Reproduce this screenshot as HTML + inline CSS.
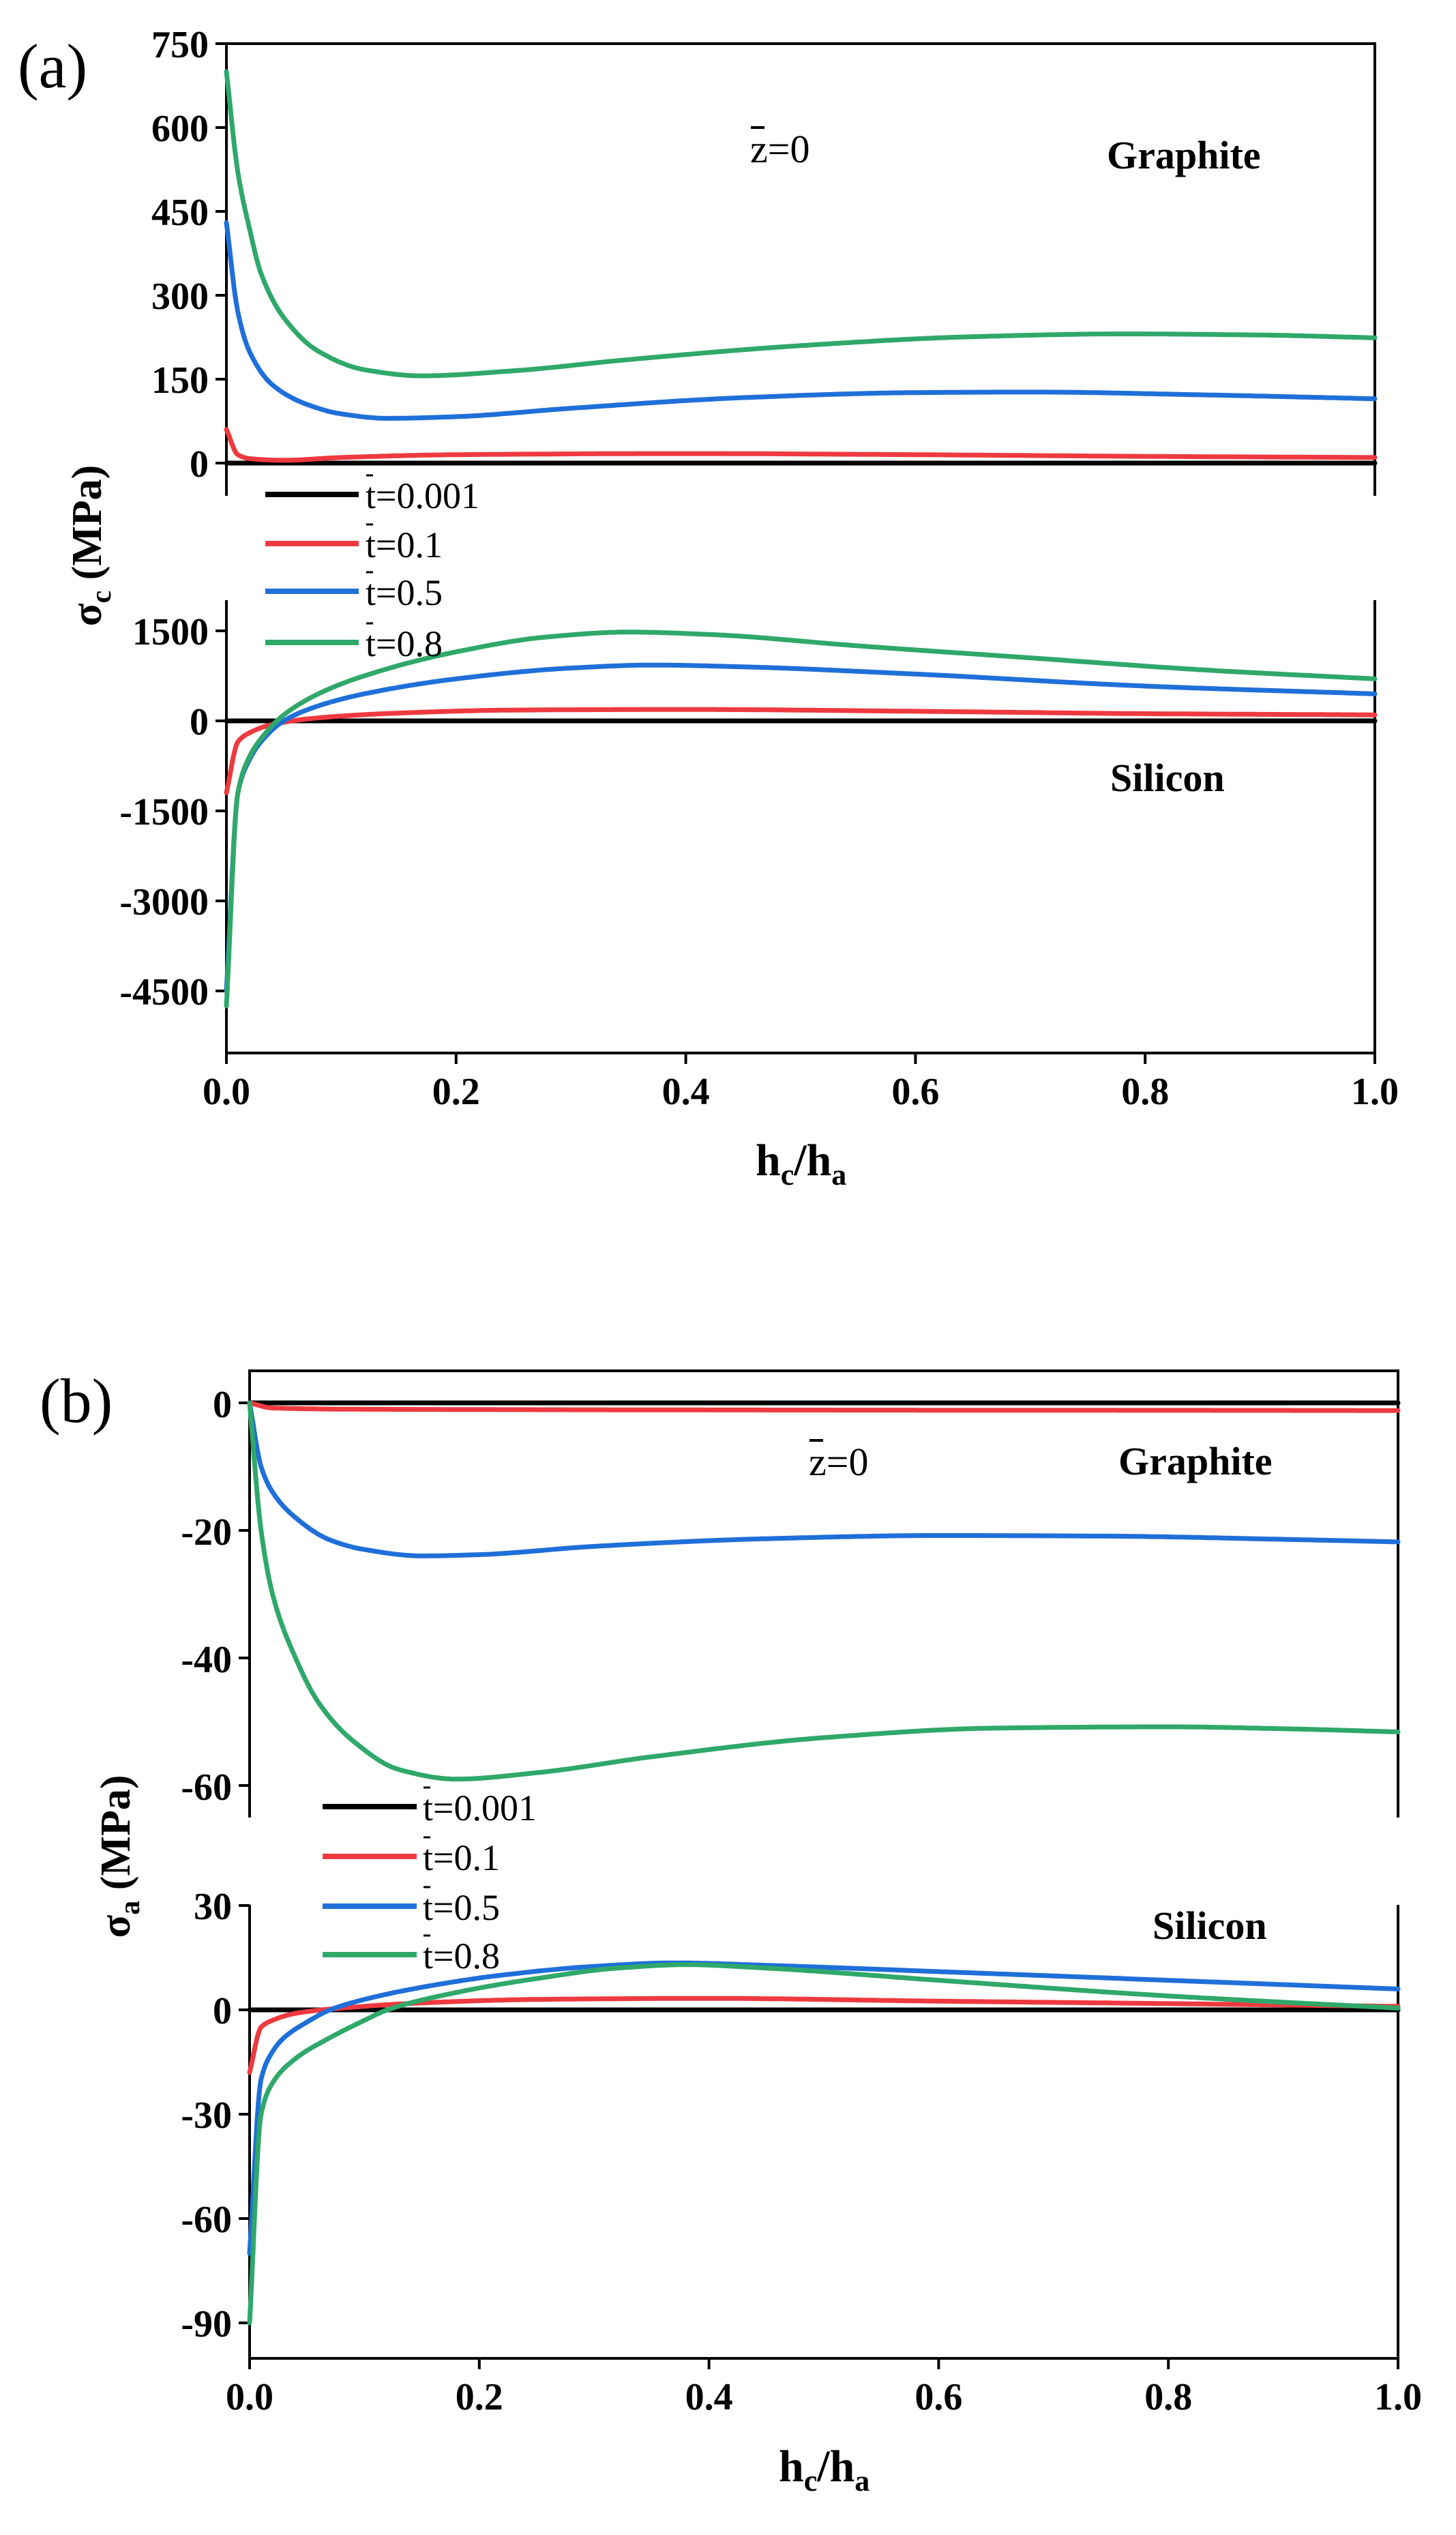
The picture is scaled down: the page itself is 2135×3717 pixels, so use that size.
<!DOCTYPE html>
<html><head><meta charset="utf-8">
<style>
html,body{margin:0;padding:0;background:#fff;}
svg{display:block;}
text{font-family:"Liberation Serif","DejaVu Serif",serif;fill:#000;}
.tk{font-size:56px;font-weight:bold;}
.lg{font-size:54px;}
.an{font-size:58px;font-weight:bold;}
</style></head>
<body>
<svg id="s" width="2135" height="3717" viewBox="0 0 2135 3717" xmlns="http://www.w3.org/2000/svg">
<g fill="none" stroke="#000" stroke-width="4">
<path d="M332,727 V64 H2016 V727"/>
<path d="M316,64H332 M316,187H332 M316,310H332 M316,433H332 M316,556H332 M316,679H332"/>
<path d="M332,880 V1544 H2016 V880"/>
<path d="M316,925H332 M316,1057H332 M316,1189H332 M316,1321H332 M316,1453H332"/>
<path d="M332,1544V1560 M668.8,1544V1560 M1005.6,1544V1560 M1342.4,1544V1560 M1679.2,1544V1560 M2016,1544V1560"/>
<path d="M366,2665 V2010 H2050 V2665"/>
<path d="M350,2057H366 M350,2244H366 M350,2431H366 M350,2618H366"/>
<path d="M366,2793 V3458 H2050 V2793"/>
<path d="M350,2794H366 M350,2947H366 M350,3100H366 M350,3253H366 M350,3406H366"/>
<path d="M366,3458V3474 M702.8,3458V3474 M1039.6,3458V3474 M1376.4,3458V3474 M1713.2,3458V3474 M2050,3458V3474"/>
</g>
<g id="curves" fill="none" stroke-width="7" stroke-linejoin="round" stroke-linecap="round"></g>

<g class="tk" text-anchor="end">
<text x="306" y="84">750</text><text x="306" y="207">600</text><text x="306" y="330">450</text>
<text x="306" y="453">300</text><text x="306" y="576">150</text><text x="306" y="699">0</text>
<text x="306" y="945">1500</text><text x="306" y="1077">0</text><text x="306" y="1209">-1500</text>
<text x="306" y="1341">-3000</text><text x="306" y="1473">-4500</text>
<text x="340" y="2078">0</text><text x="340" y="2265">-20</text><text x="340" y="2452">-40</text><text x="340" y="2639">-60</text>
<text x="340" y="2814">30</text><text x="340" y="2967">0</text><text x="340" y="3120">-30</text>
<text x="340" y="3273">-60</text><text x="340" y="3426">-90</text>
</g>
<g class="tk" text-anchor="middle">
<text x="332" y="1619">0.0</text><text x="668.8" y="1619">0.2</text><text x="1005.6" y="1619">0.4</text>
<text x="1342.4" y="1619">0.6</text><text x="1679.2" y="1619">0.8</text><text x="2016" y="1619">1.0</text>
<text x="366" y="3533">0.0</text><text x="702.8" y="3533">0.2</text><text x="1039.6" y="3533">0.4</text>
<text x="1376.4" y="3533">0.6</text><text x="1713.2" y="3533">0.8</text><text x="2050" y="3533">1.0</text>
</g>
<text x="1108" y="1723" style="font-size:66px;font-weight:bold">h<tspan dy="14" style="font-size:44px">c</tspan><tspan dy="-14">/h</tspan><tspan dy="14" style="font-size:44px">a</tspan></text>
<text x="1142" y="3638" style="font-size:66px;font-weight:bold">h<tspan dy="14" style="font-size:44px">c</tspan><tspan dy="-14">/h</tspan><tspan dy="14" style="font-size:44px">a</tspan></text>
<text transform="translate(148,800) rotate(-90)" text-anchor="middle" style="font-size:62px;font-weight:bold">σ<tspan dy="14" style="font-size:42px">c</tspan><tspan dy="-14"> (MPa)</tspan></text>
<text transform="translate(190,2722) rotate(-90)" text-anchor="middle" style="font-size:62px;font-weight:bold">σ<tspan dy="14" style="font-size:42px">a</tspan><tspan dy="-14"> (MPa)</tspan></text>
<text x="26" y="128" style="font-size:92px">(a)</text>
<text x="58" y="2085" style="font-size:92px">(b)</text>
<text x="1100" y="238" style="font-size:58px">z=0</text><line x1="1101" x2="1121" y1="187" y2="187" stroke="#000" stroke-width="4"/>
<text x="1623" y="247" class="an">Graphite</text>
<text x="1628" y="1160" class="an">Silicon</text>
<text x="1186" y="2163" style="font-size:58px">z=0</text><line x1="1187" x2="1207" y1="2112" y2="2112" stroke="#000" stroke-width="4"/>
<text x="1640" y="2162" class="an">Graphite</text>
<text x="1690" y="2843" class="an">Silicon</text>
<g stroke-width="8">
<line x1="389" x2="526" y1="725" y2="725" stroke="#000"/>
<line x1="389" x2="526" y1="797" y2="797" stroke="#ee3a3f"/>
<line x1="389" x2="526" y1="867" y2="867" stroke="#1f6fd9"/>
<line x1="389" x2="526" y1="942" y2="942" stroke="#2fa86a"/>
<line x1="473" x2="611" y1="2649" y2="2649" stroke="#000"/>
<line x1="473" x2="611" y1="2722" y2="2722" stroke="#ee3a3f"/>
<line x1="473" x2="611" y1="2795" y2="2795" stroke="#1f6fd9"/>
<line x1="473" x2="611" y1="2866" y2="2866" stroke="#2fa86a"/>
</g>
<g class="lg">
<text x="536" y="745">t=0.001</text><text x="536" y="817">t=0.1</text><text x="536" y="887">t=0.5</text><text x="536" y="962">t=0.8</text>
<text x="620" y="2669">t=0.001</text><text x="620" y="2742">t=0.1</text><text x="620" y="2815">t=0.5</text><text x="620" y="2886">t=0.8</text>
</g>
<g stroke="#000" stroke-width="3">
<line x1="537" x2="547" y1="697" y2="697"/><line x1="537" x2="547" y1="769" y2="769"/><line x1="537" x2="547" y1="839" y2="839"/><line x1="537" x2="547" y1="914" y2="914"/>
<line x1="621" x2="631" y1="2621" y2="2621"/><line x1="621" x2="631" y1="2694" y2="2694"/><line x1="621" x2="631" y1="2767" y2="2767"/><line x1="621" x2="631" y1="2838" y2="2838"/>
</g>
</svg>
<script>
var NS="http://www.w3.org/2000/svg";
var g=document.getElementById("curves");
function mono(pts){
  var n=pts.length,xs=pts.map(function(p){return p[0]}),ys=pts.map(function(p){return p[1]});
  var d=[],m=[];
  for(var i=0;i<n-1;i++)d.push((ys[i+1]-ys[i])/(xs[i+1]-xs[i]));
  m[0]=d[0];m[n-1]=d[n-2];
  for(i=1;i<n-1;i++){ if(d[i-1]*d[i]<=0)m[i]=0; else {var w1=2*(xs[i+1]-xs[i])+(xs[i]-xs[i-1]),w2=(xs[i+1]-xs[i])+2*(xs[i]-xs[i-1]);m[i]=(w1+w2)/(w1/d[i-1]+w2/d[i]);} }
  return function(x){
    var k=0;while(k<n-2&&x>xs[k+1])k++;
    var h=xs[k+1]-xs[k],t=(x-xs[k])/h,t2=t*t,t3=t2*t;
    return (2*t3-3*t2+1)*ys[k]+(t3-2*t2+t)*h*m[k]+(-2*t3+3*t2)*ys[k+1]+(t3-t2)*h*m[k+1];
  };
}
function mk(pts,x0,x1,yz,ppu,col){
  var f=mono(pts),d="";
  var samples=[];
  for(var i=0;i<=400;i++){var x=i<100?0.05*i/100:0.05+0.95*(i-100)/300;samples.push(x);}
  samples.forEach(function(x,i){
    var px=x0+(x1-x0)*x,py=yz-f(x)*ppu;
    d+=(i?"L":"M")+px.toFixed(1)+","+py.toFixed(1);
  });
  var e=document.createElementNS(NS,"path");e.setAttribute("d",d);e.setAttribute("stroke",col);g.appendChild(e);
}
var K="#000",R="#ee3a3f",B="#1f6fd9",G="#2fa86a";
var au=123/150;
mk([[0,0],[1,0]],332,2016,679,au,K);
mk([[0,60],[0.01,15],[0.02,8],[0.05,5],[0.1,10],[0.2,15],[0.4,17],[0.6,15],[0.8,12],[1,10]],332,2016,679,au,R);
mk([[0,430],[0.01,270],[0.02,200],[0.04,140],[0.07,105],[0.1,88],[0.14,80],[0.2,83],[0.3,98],[0.45,117],[0.6,126],[0.7,127],[0.85,122],[1,115]],332,2016,679,au,B);
mk([[0,700],[0.01,520],[0.02,420],[0.03,340],[0.05,260],[0.08,200],[0.12,167],[0.17,156],[0.25,165],[0.35,185],[0.5,210],[0.65,226],[0.78,231],[0.9,229],[1,224]],332,2016,679,au,G);
var al=132/1500;
mk([[0,0],[1,0]],332,2016,1057,al,K);
mk([[0,-1200],[0.01,-350],[0.02,-200],[0.04,-60],[0.08,50],[0.15,130],[0.25,180],[0.4,190],[0.6,160],[0.8,120],[1,100]],332,2016,1057,al,R);
mk([[0,-4500],[0.01,-1200],[0.02,-650],[0.03,-350],[0.05,0],[0.08,250],[0.12,450],[0.2,700],[0.3,880],[0.37,930],[0.45,900],[0.6,780],[0.8,580],[1,450]],332,2016,1057,al,B);
mk([[0,-4750],[0.01,-1200],[0.02,-600],[0.03,-300],[0.05,100],[0.08,450],[0.12,750],[0.2,1150],[0.28,1400],[0.35,1480],[0.42,1440],[0.55,1250],[0.7,1050],[0.85,850],[1,700]],332,2016,1057,al,G);
var bu=187/20;
mk([[0,0],[1,0]],366,2050,2057,bu,K);
mk([[0,0],[0.02,-0.8],[0.1,-1],[1,-1.2]],366,2050,2057,bu,R);
mk([[0,0],[0.01,-10],[0.02,-14],[0.04,-18],[0.07,-21.5],[0.1,-23],[0.15,-24],[0.2,-23.8],[0.3,-22.5],[0.45,-21.3],[0.6,-20.8],[0.75,-20.9],[0.9,-21.4],[1,-21.8]],366,2050,2057,bu,B);
mk([[0,0],[0.01,-20],[0.02,-30],[0.04,-40],[0.06,-47],[0.09,-53],[0.13,-57.5],[0.18,-59],[0.25,-58],[0.35,-55.5],[0.5,-52.5],[0.65,-51],[0.8,-50.8],[0.9,-51.1],[1,-51.6]],366,2050,2057,bu,G);
var bl=153/30;
mk([[0,0],[1,0]],366,2050,2947,bl,K);
mk([[0,-18],[0.01,-5],[0.02,-3],[0.04,-1],[0.08,0.5],[0.15,2],[0.25,3],[0.4,3.3],[0.6,2.5],[0.8,1.8],[1,1]],366,2050,2947,bl,R);
mk([[0,-70],[0.01,-20],[0.02,-12],[0.03,-8],[0.05,-3.5],[0.07,0],[0.1,3],[0.15,6.5],[0.22,10],[0.3,12.5],[0.37,13.5],[0.45,12.8],[0.6,11],[0.8,8.5],[1,6]],366,2050,2947,bl,B);
mk([[0,-90],[0.01,-30],[0.02,-21],[0.04,-14],[0.07,-8],[0.1,-3],[0.12,0],[0.18,5],[0.25,9],[0.32,12],[0.38,13],[0.45,12],[0.6,8.5],[0.8,4],[1,0.5]],366,2050,2947,bl,G);
</script>
</body></html>
